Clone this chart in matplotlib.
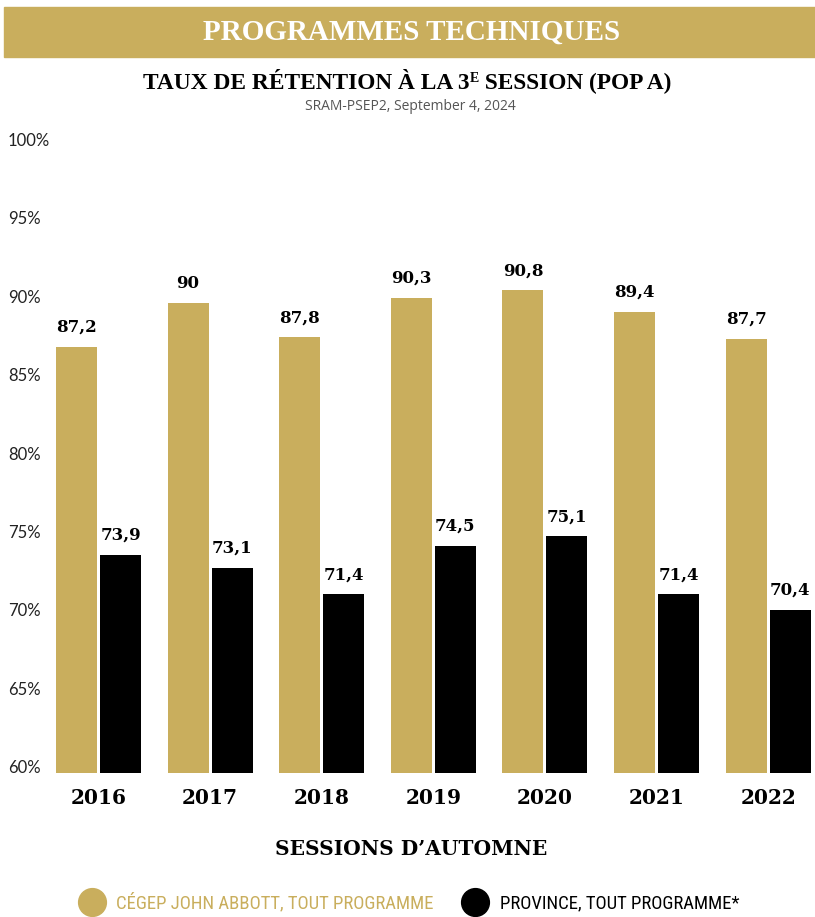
import matplotlib
matplotlib.use("Agg")
import matplotlib.pyplot as plt
import numpy as np
from matplotlib.lines import Line2D
from matplotlib.patches import Rectangle

# ==============================
# DATA
# ==============================
years = ["2016", "2017", "2018", "2019", "2020", "2021", "2022"]
cegep_rate = [87.2, 90, 87.8, 90.3, 90.8, 89.4, 87.7]
province_rate = [73.9, 73.1, 71.4, 74.5, 75.1, 71.4, 70.4]
y_ticks = [60, 65, 70, 75, 80, 85, 90, 95, 100]
legend_labels = ["CÉGEP JOHN ABBOTT, TOUT PROGRAMME", "PROVINCE, TOUT PROGRAMME*"]

GOLD = "#C9AE5D"
BLACK = "#000000"
SERIF = "Liberation Serif"
NUM_SERIF = "DejaVu Serif"

# ==============================
# FIGURE
# ==============================
W, H = 815, 917
fig = plt.figure(figsize=(W / 100, H / 100), dpi=100)
renderer = fig.canvas.get_renderer()

# banner
fig.patches.append(Rectangle((4 / W, 1 - 57 / H), 1 - 4 / W, 50 / H,
                             transform=fig.transFigure, color=GOLD, zorder=0))
fig.text(0.505, 1 - 32 / H, "PROGRAMMES TECHNIQUES", color="white",
         family=SERIF, weight="bold", fontsize=21, ha="center", va="center")

# title with a small superscript E, built from three pieces
title_parts = [("TAUX DE RÉTENTION À LA 3", 16.8, 0), ("E", 10, 7), (" SESSION (POP A)", 16.8, 0)]
pieces = []
for txt, size, rise in title_parts:
    t = fig.text(0, 1 - 89 / H + rise / H, txt, family=SERIF, weight="bold",
                 fontsize=size, ha="left", va="baseline")
    pieces.append(t)
widths = [p.get_window_extent(renderer).width for p in pieces]
x_px = W * 0.5 - sum(widths) / 2
for p, w in zip(pieces, widths):
    p.set_x(x_px / W)
    x_px += w

fig.text(0.504, 1 - 107 / H, "SRAM-PSEP2, September 4, 2024", color="#555555",
         family="Open Sans", fontsize=10, ha="center", va="center")

# axes: baseline (60%) at y=773px, 100% at y=146px
left_px, bottom_px, top_px = 42, 773, 146
ax = fig.add_axes([left_px / W, 1 - bottom_px / H, 1 - left_px / W, (bottom_px - top_px) / H])

x = np.arange(len(years))
bw = 0.367
off = 0.197
ax.bar(x - off, [v - 60 for v in cegep_rate], bottom=60, width=bw, color=GOLD)
ax.bar(x + off, [v - 60 for v in province_rate], bottom=60, width=bw, color=BLACK)

for xi, v in zip(x - off, cegep_rate):
    ax.annotate(f"{v:g}".replace(".", ","), (xi, v), xytext=(0, 8), textcoords="offset points",
                ha="center", va="bottom", family=NUM_SERIF, weight="bold", fontsize=12)
for xi, v in zip(x + off, province_rate):
    ax.annotate(f"{v:g}".replace(".", ","), (xi, v), xytext=(0, 8), textcoords="offset points",
                ha="center", va="bottom", family=NUM_SERIF, weight="bold", fontsize=12)

ax.set_ylim(60, 100)
ax.set_xlim((left_px - 98.5) / 111.6, (W - 98.5) / 111.6)
ax.set_xticks(x)
ax.set_xticklabels(years, family=NUM_SERIF, weight="bold", fontsize=14.5)
ax.set_yticks(y_ticks)
ax.set_yticklabels([f"{t}%" for t in y_ticks], family="Lato", fontsize=12,
                   color="#222222", ha="left", va="baseline")
ax.tick_params(axis="y", length=0, pad=24.5)
ax.tick_params(axis="x", length=0, pad=11)
for s in ax.spines.values():
    s.set_visible(False)

fig.text(0.504, 1 - 849 / H, "SESSIONS D\u2019AUTOMNE", family=NUM_SERIF,
         weight="bold", fontsize=14.5, ha="center", va="center")

# legend
handles = [Line2D([], [], marker="o", linestyle="", markersize=20, color=GOLD),
           Line2D([], [], marker="o", linestyle="", markersize=20, color=BLACK)]
leg = fig.legend(handles, legend_labels,
                 loc="center", bbox_to_anchor=(0.503, 1 - 903 / H), ncol=2, frameon=False,
                 handletextpad=0.7, columnspacing=1.6, handlelength=1.2,
                 prop={"family": ["Roboto Condensed", "Liberation Sans"], "size": 13.5})
leg.get_texts()[0].set_color(GOLD)
leg.get_texts()[1].set_color(BLACK)

fig.savefig("out.png", dpi=100)
